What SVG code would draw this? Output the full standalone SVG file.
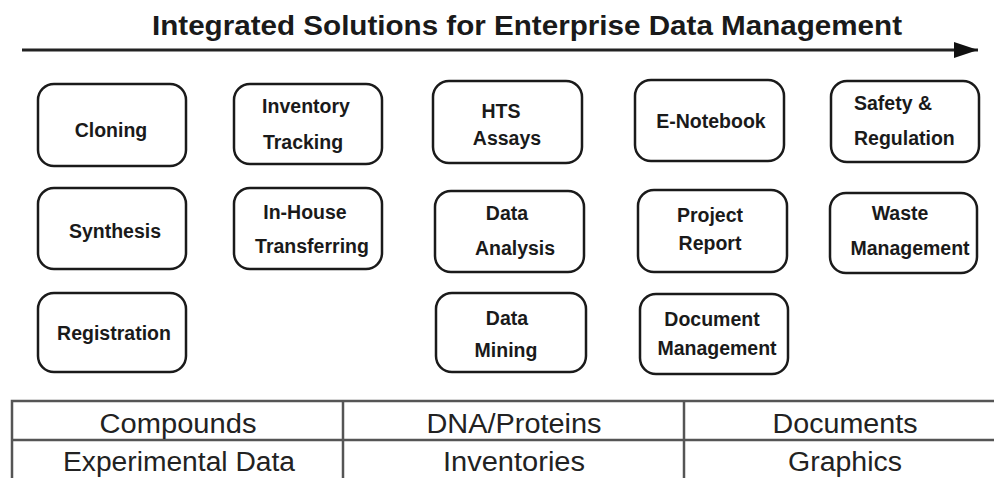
<svg xmlns="http://www.w3.org/2000/svg" width="994" height="478" viewBox="0 0 994 478">
<style>
.box{fill:#fff;stroke:#1a1a1a;stroke-width:2.5}
.lbl{font-family:"Liberation Sans",Arial,sans-serif;font-weight:bold;font-size:19.5px;fill:#1a1a1a;text-anchor:middle}
.tbl{font-family:"Liberation Sans",Arial,sans-serif;font-size:27px;fill:#222;text-anchor:middle}
.grid{fill:none;stroke:#555;stroke-width:2.5}
</style>
<defs>
<marker id="ah" markerWidth="24" markerHeight="16" refX="24" refY="8" orient="auto" markerUnits="userSpaceOnUse">
<path d="M0,0 L24,8 L0,16 Z" fill="#111"/>
</marker>
</defs>
<rect width="994" height="478" fill="#fff"/>
<text x="152" y="35" font-family="'Liberation Sans',Arial,sans-serif" font-weight="bold" font-size="28" fill="#1a1a1a" textLength="750" lengthAdjust="spacingAndGlyphs">Integrated Solutions for Enterprise Data Management</text>
<g id="connectors">
<line x1="22" y1="50" x2="978" y2="50" stroke="#222" stroke-width="3" marker-end="url(#ah)"/>
</g>
<g id="n-cloning"><rect class="box" x="38" y="84" width="148" height="82" rx="16"/><text class="lbl" x="111" y="137">Cloning</text></g>
<g id="n-inventory"><rect class="box" x="234" y="84" width="148" height="80" rx="16"/><text class="lbl" x="306" y="113">Inventory</text><text class="lbl" x="303" y="149">Tracking</text></g>
<g id="n-synthesis"><rect class="box" x="38" y="188" width="148" height="81" rx="16"/><text class="lbl" x="115" y="238">Synthesis</text></g>
<g id="n-inhouse"><rect class="box" x="234" y="188" width="148" height="81" rx="16"/><text class="lbl" x="305" y="219">In-House</text><text class="lbl" x="312" y="253">Transferring</text></g>
<g id="n-registration"><rect class="box" x="38" y="293" width="148" height="79" rx="16"/><text class="lbl" x="114" y="340">Registration</text></g>
<g id="n-hts"><rect class="box" x="433" y="81" width="149" height="82" rx="16"/><text class="lbl" x="501" y="118">HTS</text><text class="lbl" x="507" y="145">Assays</text></g>
<g id="n-analysis"><rect class="box" x="435" y="191" width="149" height="81" rx="16"/><text class="lbl" x="507" y="220">Data</text><text class="lbl" x="515" y="255">Analysis</text></g>
<g id="n-mining"><rect class="box" x="436" y="293" width="150" height="79" rx="16"/><text class="lbl" x="507" y="325">Data</text><text class="lbl" x="506" y="357">Mining</text></g>
<g id="n-enotebook"><rect class="box" x="635" y="80" width="149" height="81" rx="16"/><text class="lbl" x="711" y="128">E-Notebook</text></g>
<g id="n-project"><rect class="box" x="638" y="190" width="149" height="82" rx="16"/><text class="lbl" x="710" y="222">Project</text><text class="lbl" x="710" y="250">Report</text></g>
<g id="n-document"><rect class="box" x="640" y="294" width="148" height="80" rx="16"/><text class="lbl" x="712" y="326">Document</text><text class="lbl" x="717" y="355">Management</text></g>
<g id="n-safety"><rect class="box" x="831" y="81" width="148" height="81" rx="16"/><text class="lbl" x="854" y="110" style="text-anchor:start">Safety &amp;</text><text class="lbl" x="854" y="145" style="text-anchor:start">Regulation</text></g>
<g id="n-waste"><rect class="box" x="830" y="193" width="147" height="80" rx="16"/><text class="lbl" x="900" y="220">Waste</text><text class="lbl" x="910" y="255">Management</text></g>
<g id="table">
<rect class="grid" x="12" y="401" width="990" height="80"/>
<line class="grid" x1="12" y1="440" x2="994" y2="440"/>
<line class="grid" x1="343" y1="401" x2="343" y2="480"/>
<line class="grid" x1="684" y1="401" x2="684" y2="480"/>
<text class="tbl" x="178" y="433" textLength="157" lengthAdjust="spacingAndGlyphs">Compounds</text>
<text class="tbl" x="514" y="433" textLength="175" lengthAdjust="spacingAndGlyphs">DNA/Proteins</text>
<text class="tbl" x="845" y="433" textLength="145" lengthAdjust="spacingAndGlyphs">Documents</text>
<text class="tbl" x="179" y="471" textLength="232" lengthAdjust="spacingAndGlyphs">Experimental Data</text>
<text class="tbl" x="514" y="471" textLength="142" lengthAdjust="spacingAndGlyphs">Inventories</text>
<text class="tbl" x="845" y="471" textLength="114" lengthAdjust="spacingAndGlyphs">Graphics</text>
</g>
</svg>
